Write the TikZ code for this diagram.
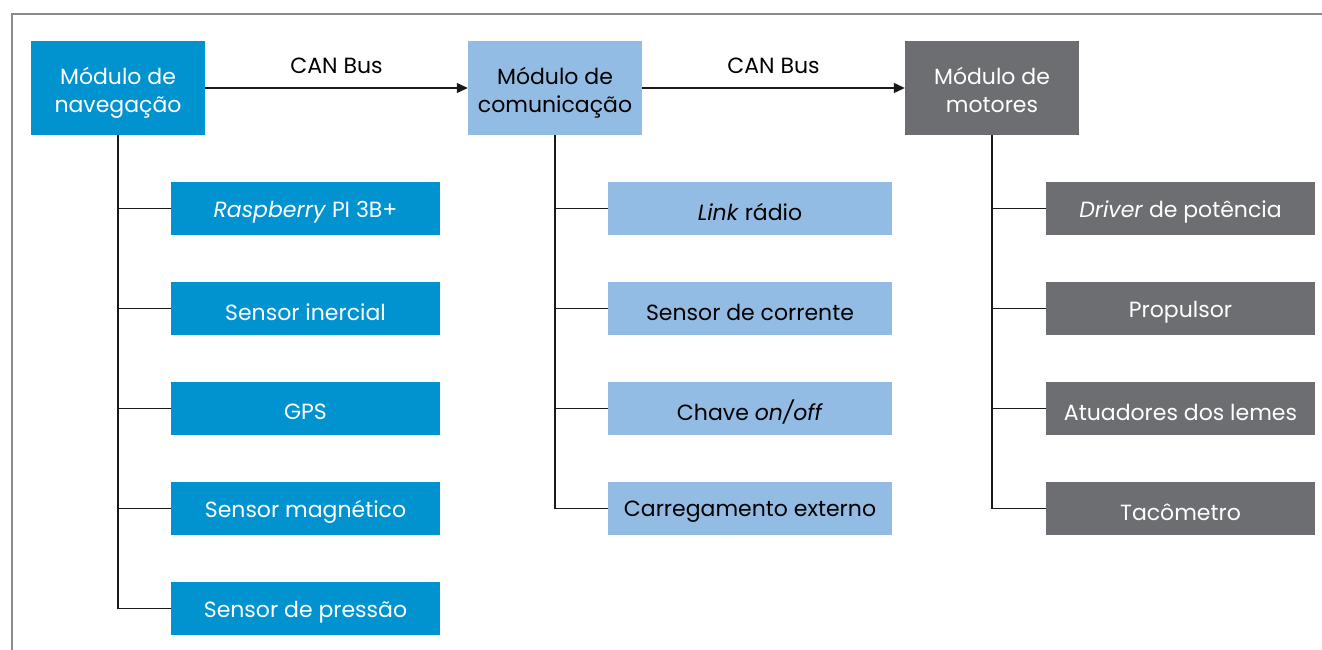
\documentclass[tikz,border=0pt]{standalone}
\usepackage{fontspec}
\setmainfont{Poppins}
\usetikzlibrary{arrows.meta}
\definecolor{navc}{HTML}{0093D0}
\definecolor{comc}{HTML}{93BCE4}
\definecolor{motc}{HTML}{6D6E71}
\definecolor{framec}{HTML}{8A8A8A}
\definecolor{linec}{HTML}{1A1A1A}
\newcommand\dn[1]{\raisebox{-3.5pt}[\height][\depth]{#1}}
\newcommand\twol[2]{\raisebox{-5pt}[\height][\depth]{\begin{tabular}{@{}c@{}}#1\\#2\end{tabular}}}
\begin{document}
\begin{tikzpicture}[x=1pt,y=-1pt,
  mainbox/.style={minimum width=174pt, minimum height=94pt, inner sep=0pt, font=\fontsize{22}{28}\selectfont},
  subbox/.style={minimum width=269pt, minimum height=53pt, inner sep=0pt, font=\fontsize{22}{26}\selectfont},
  navs/.style={fill=navc, text=white},
  coms/.style={fill=comc, text=black},
  mots/.style={fill=motc, text=white},
  conn/.style={draw=linec, line width=1.2pt},
  arr/.style={conn, -{Triangle[length=11pt,width=10pt]}},
  lbl/.style={font=\fontsize{22}{26}\selectfont, above=14pt, inner sep=0pt}
]
\useasboundingbox (0,0) rectangle (1322,650);
\draw[framec, line width=1.6pt] (12,650) -- (12,14) -- (1322,14);

\node[mainbox, navs] (nav) at (118,88) {\twol{Módulo de}{navegação}};
\node[mainbox, coms] (com) at (555,88) {\twol{Módulo de}{comunicação}};
\node[mainbox, mots] (mot) at (992,88) {\twol{Módulo de}{motores}};

\draw[arr] (nav) -- node[lbl] (l1) {CAN Bus} (com);
\draw[arr] (com) -- node[lbl] (l2) {CAN Bus} (mot);

% navigation
\node[subbox, navs] (n1) at (305.5,208.5) {\dn{\textit{Raspberry} PI 3B+}};
\node[subbox, navs] (n2) at (305.5,308.5) {\dn{Sensor inercial}};
\node[subbox, navs] (n3) at (305.5,408.5) {\dn{GPS}};
\node[subbox, navs] (n4) at (305.5,508.5) {\dn{Sensor magnético}};
\node[subbox, navs] (n5) at (305.5,608.5) {\dn{Sensor de pressão}};
\draw[conn] (nav.south) |- (n5.west);
\foreach \n in {n1,n2,n3,n4} \draw[conn] (\n.west) -- (\n.west -| nav.south);

% communication
\node[subbox, coms, minimum width=284pt] (c1) at (750,208.5) {\dn{\textit{Link} rádio}};
\node[subbox, coms, minimum width=284pt] (c2) at (750,308.5) {\dn{Sensor de corrente}};
\node[subbox, coms, minimum width=284pt] (c3) at (750,408.5) {\dn{Chave \textit{on/off}}};
\node[subbox, coms, minimum width=284pt] (c4) at (750,508.5) {\dn{Carregamento externo}};
\draw[conn] (com.south) |- (c4.west);
\foreach \n in {c1,c2,c3} \draw[conn] (\n.west) -- (\n.west -| com.south);

% motors
\node[subbox, mots] (m1) at (1180.5,208.5) {\dn{\textit{Driver} de potência}};
\node[subbox, mots] (m2) at (1180.5,308.5) {\dn{Propulsor}};
\node[subbox, mots] (m3) at (1180.5,408.5) {\dn{Atuadores dos lemes}};
\node[subbox, mots] (m4) at (1180.5,508.5) {\dn{Tacômetro}};
\draw[conn] (mot.south) |- (m4.west);
\foreach \n in {m1,m2,m3} \draw[conn] (\n.west) -- (\n.west -| mot.south);
\end{tikzpicture}
\end{document}
